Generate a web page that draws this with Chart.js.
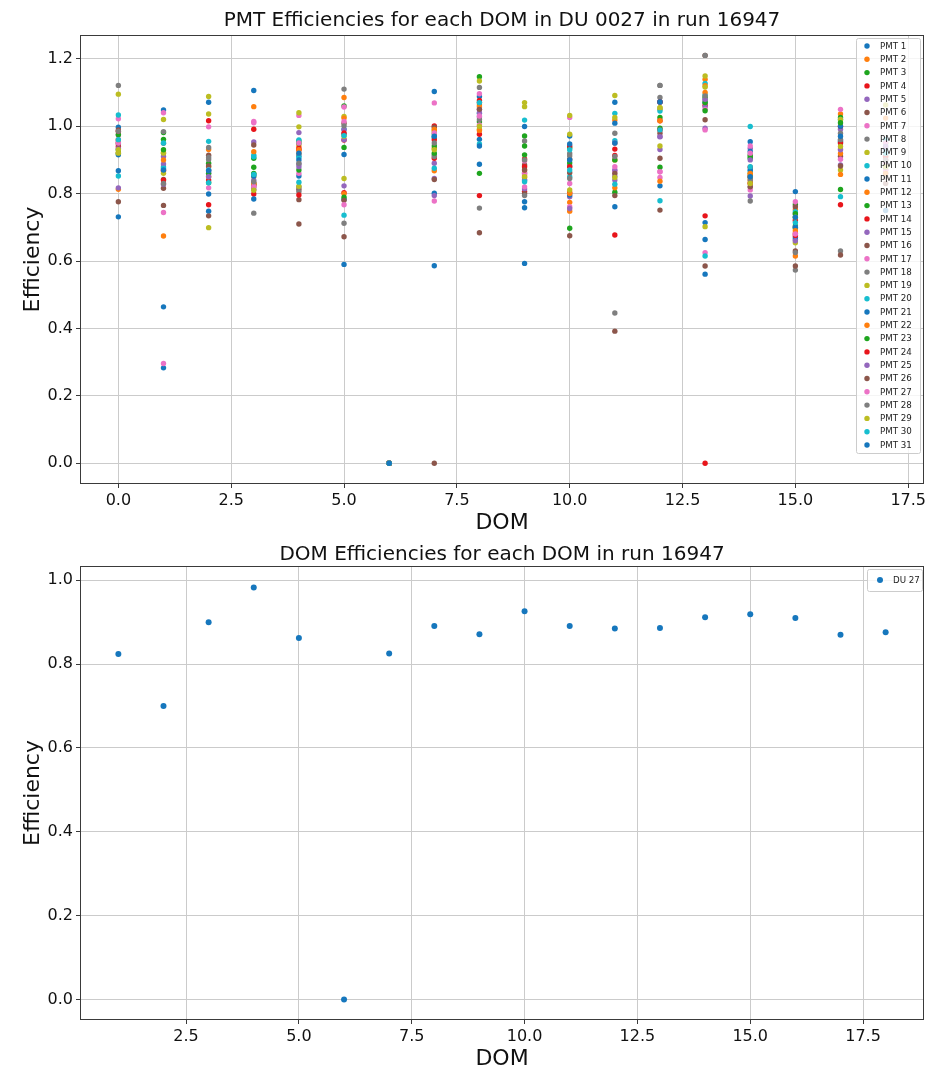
<!DOCTYPE html>
<html lang="en">
<head>
  <meta charset="UTF-8" />
  <title>PMT / DOM Efficiencies</title>
  <script src="https://cdn.jsdelivr.net/npm/chart.js"></script>
  <style>
    body {
      margin: 0;
      background: #fff;
    }
    .plot {
      position: absolute;
      left: 0;
      width: 932px;
    }
    #topWrap { top: 0; height: 536px; }
    #bottomWrap { top: 536px; height: 530px; }
  </style>
</head>
<body>
  <div class="plot" id="topWrap"><canvas id="pmtChart"></canvas></div>
  <div class="plot" id="bottomWrap"><canvas id="domChart"></canvas></div>

  <script>
    // DOM index on the x axis of the upper plot
    const doms = [0, 1, 2, 3, 4, 5, 6, 7, 8, 9, 10, 11, 12, 13, 14, 15, 16, 17];

    // efficiency of PMT 1..31 for each DOM
    const dom0  = [0.997, 0.922, 0.919, 0.95, 0.954, 0.989, 1.022, 1.121, 1.095, 1.033, 0.915, 0.813, 0.93, 0.94, 0.934, 0.947, 0.95, 0.974, 0.93, 0.852, 0.868, 0.96, 0.975, 0.985, 0.817, 0.776, 0.96, 0.985, 0.92, 0.96, 0.731];
    const dom1  = [1.048, 0.921, 0.981, 0.868, 0.910, 0.842, 1.040, 0.984, 1.020, 0.880, 0.464, 0.674, 0.961, 0.87, 0.888, 0.816, 0.744, 0.949, 0.92, 0.875, 0.283, 0.90, 0.93, 0.84, 0.828, 0.765, 0.296, 0.83, 0.86, 0.95, 0.87];
    const dom2  = [1.071, 0.931, 0.890, 1.016, 0.868, 0.914, 0.998, 0.937, 1.088, 0.955, 0.799, 0.88, 0.832, 0.840, 0.860, 0.882, 0.817, 0.907, 1.036, 0.832, 0.748, 0.85, 0.86, 0.767, 0.85, 0.734, 0.87, 0.901, 0.699, 0.87, 0.868];
    const dom3  = [1.106, 1.058, 0.905, 0.991, 0.953, 0.944, 1.014, 0.826, 0.85, 0.914, 0.857, 0.924, 0.878, 0.826, 0.840, 0.831, 1.010, 0.742, 0.83, 0.909, 0.852, 0.83, 0.86, 0.799, 0.813, 0.82, 0.821, 0.835, 0.81, 0.857, 0.784];
    const dom4  = [0.912, 0.941, 0.956, 0.934, 0.981, 0.813, 1.032, 0.806, 1.040, 0.959, 0.852, 0.919, 0.949, 0.929, 0.887, 0.782, 0.860, 0.82, 0.998, 0.907, 0.90, 0.93, 0.870, 0.796, 0.88, 0.710, 0.95, 0.89, 0.822, 0.834, 0.92];
    const dom5  = [0.977, 1.085, 1.060, 0.959, 0.823, 1.009, 1.057, 1.110, 1.029, 0.991, 0.916, 1.024, 0.937, 0.803, 0.99, 0.672, 1.014, 1.001, 0.845, 0.736, 0.783, 0.80, 0.789, 0.98, 0.96, 0.78, 0.767, 0.712, 0.97, 0.972, 0.590];
    const dom6  = [0, 0, 0, 0, 0, 0, 0, 0, 0, 0, 0, 0, 0, 0, 0, 0, 0, 0, 0, 0, 0, 0, 0, 0, 0, 0, 0, 0, 0, 0, 0];
    const dom7  = [1.103, 0.934, 0.977, 1.001, 0.890, 0.997, 1.069, 0.915, 0.989, 0.969, 0.801, 0.868, 0.941, 0.905, 0.845, 0.842, 0.778, 0.910, 0.984, 0.966, 0.586, 0.99, 0.92, 0.96, 0.794, 0.0, 0.98, 0.95, 0.93, 0.875, 0.97];
    const dom8  = [1.088, 1.063, 1.147, 1.076, 1.028, 1.070, 1.096, 1.115, 1.134, 1.038, 0.961, 1.058, 1.013, 0.976, 1.04, 0.684, 1.004, 1.020, 0.991, 0.947, 0.941, 0.987, 0.860, 0.794, 1.05, 1.05, 1.03, 0.757, 1.00, 1.07, 0.887];
    const dom9  = [0.999, 0.855, 0.971, 0.903, 0.862, 0.885, 0.897, 0.956, 1.070, 1.018, 0.776, 0.848, 0.941, 0.806, 0.814, 0.80, 0.86, 0.794, 1.058, 0.840, 0.758, 0.87, 0.915, 0.88, 0.84, 0.87, 0.82, 0.90, 0.85, 0.835, 0.593];
    const dom10 = [0.971, 0.774, 0.936, 0.941, 0.882, 0.902, 1.026, 0.919, 1.032, 0.850, 0.947, 0.748, 0.891, 0.803, 0.791, 0.862, 0.761, 0.912, 0.976, 0.93, 0.796, 0.80, 0.697, 0.88, 0.756, 0.675, 0.83, 0.845, 0.811, 0.87, 0.90];
    const dom11 = [1.071, 1.018, 0.804, 0.932, 0.852, 0.794, 0.867, 0.979, 1.091, 1.038, 1.009, 0.817, 0.95, 0.913, 0.87, 0.392, 0.88, 0.446, 1.026, 0.957, 0.761, 0.90, 0.90, 0.677, 0.84, 0.86, 0.95, 0.91, 0.848, 0.828, 0.95];
    const dom12 = [1.072, 1.050, 1.026, 1.016, 0.969, 0.979, 0.865, 1.121, 1.055, 1.045, 0.823, 1.016, 0.994, 0.989, 0.931, 0.905, 0.848, 1.085, 0.941, 0.989, 1.072, 0.837, 0.878, 1.072, 0.969, 0.751, 0.865, 1.121, 1.055, 0.779, 1.072];
    const dom13 = [1.070, 1.139, 1.086, 1.062, 1.058, 1.210, 1.050, 1.078, 1.149, 1.127, 0.714, 1.12, 1.046, 0.734, 0.994, 1.019, 0.989, 1.21, 1.116, 1.093, 0.664, 1.10, 1.07, 0.0, 1.08, 0.585, 0.625, 1.09, 0.702, 0.615, 0.561];
    const dom14 = [0.954, 0.840, 0.915, 0.878, 0.934, 0.855, 0.941, 0.820, 0.86, 0.999, 0.925, 0.832, 0.910, 0.85, 0.793, 0.848, 0.811, 0.778, 0.85, 0.867, 0.87, 0.86, 0.905, 0.83, 0.90, 0.82, 0.92, 0.84, 0.83, 0.88, 0.85];
    const dom15 = [0.806, 0.753, 0.768, 0.682, 0.74, 0.761, 0.776, 0.664, 0.654, 0.746, 0.670, 0.615, 0.704, 0.676, 0.70, 0.630, 0.722, 0.573, 0.697, 0.731, 0.70, 0.69, 0.74, 0.72, 0.66, 0.585, 0.68, 0.625, 0.73, 0.714, 0.73];
    const dom16 = [0.959, 1.036, 1.026, 0.767, 0.991, 0.911, 1.050, 0.979, 0.870, 1.020, 0.955, 0.919, 0.812, 1.00, 0.885, 0.882, 0.932, 0.630, 1.02, 0.951, 1.00, 0.857, 1.01, 0.95, 0.93, 0.618, 0.902, 0.96, 0.94, 0.791, 0.97];
    const dom17 = [0.96, 1.024, 0.95, 0.87, 0.90, 0.83, 0.87, 0.93, 1.063, 0.96, 0.93, 0.90, 0.92, 0.85, 0.86, 0.88, 0.95, 0.85, 0.91, 0.94, 0.89, 0.86, 0.88, 0.91, 0.94, 0.92, 0.89, 0.90, 0.88, 0.92, 0.75];
    const domRows = [dom0, dom1, dom2, dom3, dom4, dom5, dom6, dom7, dom8, dom9, dom10, dom11, dom12, dom13, dom14, dom15, dom16, dom17];

    // lower plot: one efficiency per DOM (DU 27)
    const domNumbers = [1, 2, 3, 4, 5, 6, 7, 8, 9, 10, 11, 12, 13, 14, 15, 16, 17, 18];
    const domEff = [0.824, 0.700, 0.900, 0.983, 0.862, 0.0, 0.825, 0.891, 0.871, 0.926, 0.891, 0.885, 0.886, 0.912, 0.919, 0.910, 0.870, 0.876];

    // tick labels
    const xTicksTop = [0, 2.5, 5, 7.5, 10, 12.5, 15, 17.5];
    const yTicksTop = [0, 0.2, 0.4, 0.6, 0.8, 1.0, 1.2];
    const xTicksBottom = [2.5, 5, 7.5, 10, 12.5, 15, 17.5];
    const yTicksBottom = [0, 0.2, 0.4, 0.6, 0.8, 1.0];

    const palette = ['#1677bd', '#ff7f0e', '#1ea51e', '#e8151b', '#9467bd',
                     '#8c564b', '#ec72c6', '#7f7f7f', '#bcbd22', '#17becf'];

    const FONT = "'DejaVu Sans', sans-serif";
    const ink = '#111';
    const gridColor = '#cbcbcb';
    const spine = '#3a3a3a';

    // title centred over the axes + full frame + in-axes legend
    function axesDecor(title, baseline, legendBox) {
      return {
        id: 'axesDecor',
        afterDatasetsDraw(chart) {
          const ctx = chart.ctx;
          const a = chart.chartArea;
          ctx.save();
          ctx.strokeStyle = spine;
          ctx.lineWidth = 1;
          ctx.strokeRect(Math.round(a.left) + 0.5, Math.round(a.top) + 0.5,
                         Math.round(a.right - a.left) - 1, Math.round(a.bottom - a.top) - 1);

          // legend
          const L = legendBox;
          const bx = a.right - L.right - L.width;
          const by = a.top + L.top;
          const sets = chart.data.datasets;
          const h = L.padTop * 2 + (sets.length - 1) * L.rowH;
          ctx.fillStyle = 'rgba(255,255,255,0.8)';
          ctx.strokeStyle = '#cccccc';
          ctx.beginPath();
          ctx.roundRect(bx + 0.5, by + 0.5, L.width, h, 2);
          ctx.fill();
          ctx.stroke();
          ctx.font = L.fontSize + 'px ' + FONT;
          ctx.textBaseline = 'middle';
          ctx.textAlign = 'left';
          sets.forEach((ds, i) => {
            const cy = by + L.padTop + i * L.rowH;
            ctx.fillStyle = ds.backgroundColor;
            ctx.beginPath();
            ctx.arc(bx + L.markerX, cy, ds.pointRadius, 0, Math.PI * 2);
            ctx.fill();
            ctx.fillStyle = '#222';
            ctx.fillText(ds.label, bx + L.textX, cy + 0.5);
          });
          ctx.restore();
        },
        afterDraw(chart) {
          const ctx = chart.ctx;
          const a = chart.chartArea;
          ctx.save();
          ctx.font = '20px ' + FONT;
          ctx.fillStyle = ink;
          ctx.textAlign = 'center';
          ctx.textBaseline = 'alphabetic';
          ctx.fillText(title, (a.left + a.right) / 2, baseline);
          ctx.restore();
        }
      };
    }

    function axis(min, max, ticks, label, size, horizontal, titlePad) {
      return {
        type: 'linear',
        min: min,
        max: max,
        afterBuildTicks: s => { s.ticks = ticks.map(v => ({ value: v })); },
        afterFit: s => { if (horizontal) s.height = size; else s.width = size; },
        border: { display: false },
        grid: { color: gridColor, lineWidth: 1, tickLength: 4, tickColor: spine, drawTicks: true },
        ticks: {
          color: ink,
          padding: 3,
          font: { family: FONT, size: 16 },
          callback: v => Number(v).toFixed(1)
        },
        title: {
          display: true,
          text: label,
          color: ink,
          font: { family: FONT, size: 22, lineHeight: 1 },
          padding: horizontal ? { top: 0, bottom: titlePad } : { top: titlePad, bottom: 0 }
        }
      };
    }

    // upper plot
    const pmtSets = [];
    for (let p = 0; p < 31; p++) {
      pmtSets.push({
        label: 'PMT ' + (p + 1),
        data: doms.map((d, i) => ({ x: d, y: domRows[i][p] })),
        backgroundColor: palette[p % 10],
        borderWidth: 0,
        pointRadius: 2.7,
        order: -p
      });
    }

    new Chart(document.getElementById('pmtChart'), {
      type: 'scatter',
      data: { datasets: pmtSets },
      options: {
        responsive: true,
        maintainAspectRatio: false,
        animation: false,
        layout: { padding: { top: 35, right: 8, left: 0, bottom: 0 } },
        plugins: { legend: { display: false }, tooltip: { enabled: false } },
        scales: {
          x: axis(-0.85, 17.85, xTicksTop, 'DOM', 52, true, 2),
          y: axis(-0.0615, 1.2705, yTicksTop, 'Efficiency', 80, false, 22)
        }
      },
      plugins: [axesDecor('PMT Efficiencies for each DOM in DU 0027 in run 16947', 26,
        { right: 4, top: 3, width: 64, padTop: 8, rowH: 13.3, markerX: 11, textX: 24, fontSize: 8.7 })]
    });

    // lower plot
    new Chart(document.getElementById('domChart'), {
      type: 'scatter',
      data: {
        datasets: [{
          label: 'DU 27',
          data: domNumbers.map((d, i) => ({ x: d, y: domEff[i] })),
          backgroundColor: palette[0],
          borderWidth: 0,
          pointRadius: 3
        }]
      },
      options: {
        responsive: true,
        maintainAspectRatio: false,
        animation: false,
        layout: { padding: { top: 30, right: 8, left: 0, bottom: 0 } },
        plugins: { legend: { display: false }, tooltip: { enabled: false } },
        scales: {
          x: axis(0.15, 18.85, xTicksBottom, 'DOM', 46, true, -4),
          y: axis(-0.049, 1.034, yTicksBottom, 'Efficiency', 80, false, 22)
        }
      },
      plugins: [axesDecor('DOM Efficiencies for each DOM in run 16947', 24,
        { right: 2, top: 3, width: 55, padTop: 11, rowH: 13.3, markerX: 13, textX: 26, fontSize: 8.7 })]
    });
  </script>
</body>
</html>
